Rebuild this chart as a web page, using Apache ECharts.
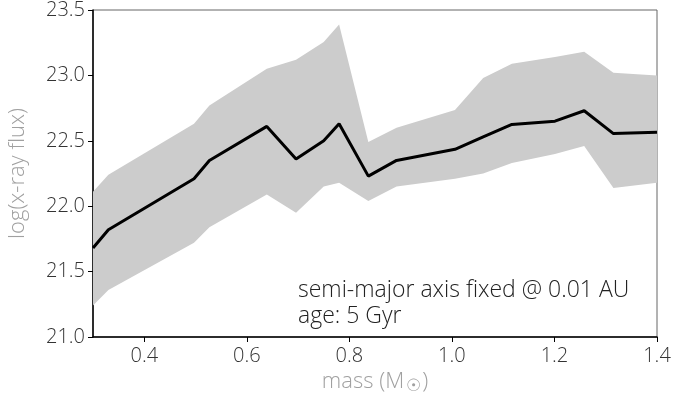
<!DOCTYPE html>
<html>
<head>
<meta charset="utf-8">
<script src="https://cdn.jsdelivr.net/npm/echarts@6/dist/echarts.min.js"></script>
<style>
html,body{margin:0;padding:0;background:#fff;}
#chart{width:683px;height:396px;}
</style>
</head>
<body>
<div id="chart"></div>
<script>
// Stellar mass (solar masses)
const massX = [0.30, 0.33, 0.497, 0.527, 0.639, 0.696, 0.75, 0.78, 0.837, 0.892, 1.006, 1.061, 1.117, 1.201, 1.258, 1.315, 1.40];
// mean log(x-ray flux)
const meanFlux = [21.68, 21.82, 22.21, 22.35, 22.61, 22.36, 22.50, 22.63, 22.23, 22.35, 22.435, 22.53, 22.625, 22.65, 22.73, 22.555, 22.565];
// upper envelope
const upperFlux = [22.11, 22.24, 22.63, 22.77, 23.05, 23.12, 23.255, 23.39, 22.49, 22.60, 22.735, 22.98, 23.09, 23.14, 23.18, 23.02, 23.00];
// lower envelope
const lowerFlux = [21.24, 21.36, 21.72, 21.84, 22.09, 21.95, 22.15, 22.18, 22.04, 22.15, 22.21, 22.25, 22.33, 22.40, 22.46, 22.14, 22.18];
// tick labels
const xTicks = [0.4, 0.6, 0.8, 1.0, 1.2, 1.4];
const yTicks = ['21.0', '21.5', '22.0', '22.5', '23.0', '23.5'];
const annotationLines = ['semi-major axis fixed @ 0.01 AU', 'age: 5 Gyr'];

const FONT = 'Open Sans';
const chart = echarts.init(document.getElementById('chart'), null, {renderer: 'canvas'});

const option = {
  animation: false,
  backgroundColor: '#ffffff',
  grid: {
    left: 93, right: 26, top: 10, bottom: 59,
    outerBoundsMode: 'none', containLabel: false,
    show: true, borderColor: '#666666', borderWidth: 1, backgroundColor: 'transparent'
  },
  xAxis: {
    type: 'value', min: 0.3, max: 1.4,
    name: 'mass (M{sub|☉}{n|)}',
    nameLocation: 'middle', nameGap: 30,
    nameTextStyle: {
      fontFamily: FONT, fontWeight: 300, fontSize: 22, color: '#a0a0a0',
      rich: {
        sub: {fontFamily: 'DejaVu Sans', fontSize: 17, color: '#a0a0a0', padding: [10, 1, 0, 2]},
        n: {fontFamily: FONT, fontWeight: 300, fontSize: 22, color: '#a0a0a0'}
      }
    },
    axisLine: {show: true, lineStyle: {color: '#000', width: 1.5}},
    axisTick: {show: true, length: 5, lineStyle: {color: '#000', width: 1}, customValues: xTicks},
    axisLabel: {
      fontFamily: FONT, fontWeight: 300, fontSize: 20, color: '#333', margin: 9,
      customValues: xTicks,
      formatter: v => Number(v).toFixed(1)
    },
    splitLine: {show: false}
  },
  yAxis: {
    type: 'value', min: 21, max: 23.5, interval: 0.5,
    name: 'log(x-ray flux)',
    nameLocation: 'middle', nameGap: 64, nameRotate: 90,
    nameTextStyle: {fontFamily: FONT, fontWeight: 300, fontSize: 22, color: '#a0a0a0'},
    axisLine: {show: true, lineStyle: {color: '#000', width: 1.5}},
    axisTick: {show: true, length: 5, lineStyle: {color: '#000', width: 1}},
    axisLabel: {
      fontFamily: FONT, fontWeight: 300, fontSize: 20, color: '#333', margin: 8,
      formatter: (v) => yTicks[Math.round((v - 21) / 0.5)] || Number(v).toFixed(1)
    },
    splitLine: {show: false}
  },
  series: [
    {
      type: 'custom',
      silent: true,
      z: 1,
      data: [[massX[0], meanFlux[0]]],
      renderItem: function (params, api) {
        const pts = [];
        for (let i = 0; i < massX.length; i++) pts.push(api.coord([massX[i], upperFlux[i]]));
        for (let i = massX.length - 1; i >= 0; i--) pts.push(api.coord([massX[i], lowerFlux[i]]));
        return {type: 'polygon', shape: {points: pts}, style: {fill: '#cccccc', stroke: null}};
      }
    },
    {
      type: 'line',
      z: 3,
      data: massX.map((x, i) => [x, meanFlux[i]]),
      showSymbol: false,
      lineStyle: {color: '#000', width: 3},
      silent: true
    }
  ],
  graphic: [
    {
      type: 'text', left: 298, top: 277, z: 10,
      style: {
        text: annotationLines.join('\n'),
        fontFamily: FONT, fontWeight: 300, fontSize: 23, lineHeight: 26, fill: '#222'
      }
    }
  ]
};
chart.setOption(option);
</script>
</body>
</html>
